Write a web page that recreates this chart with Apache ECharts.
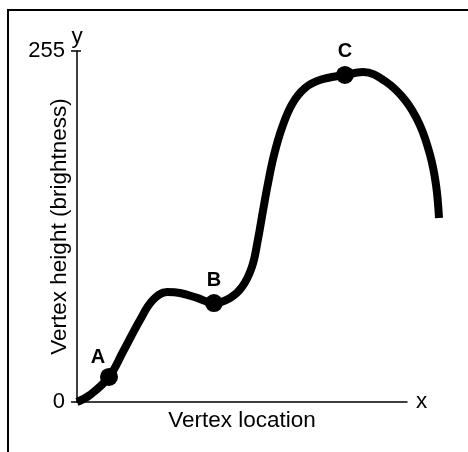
<!DOCTYPE html>
<html>
<head>
<meta charset="utf-8">
<script src="https://cdn.jsdelivr.net/npm/echarts@6/dist/echarts.min.js"></script>
<style>
html, body { margin: 0; padding: 0; background: #fff; }
#chart { position: absolute; left: 0; top: 0; width: 468px; height: 452px; }
.frame { position: absolute; left: 7px; top: 9px; width: 470px; height: 460px; border-top: 2px solid #000; border-left: 2px solid #000; pointer-events: none; }
</style>
</head>
<body>
<div id="chart"></div>
<div class="frame"></div>
<script>
// curve (x: 0..100 = visible axis, y: 0..255)
var curveX = [0, 3.9, 9.7, 13.9, 19.1, 23.0, 27.3, 31.2, 36.4, 41.5, 46.4, 50.0, 53.0, 54.8, 56.4, 57.9, 59.7, 62.1, 65.2, 69.1, 73.6, 81.2, 86.7, 93.3, 99.4, 103.9, 107.0, 108.8, 109.7];
var curveY = [0, 5.1, 18.2, 36.3, 59.6, 74.1, 79.9, 79.2, 75.6, 71.9, 75.6, 83.5, 98.1, 117.7, 139.5, 159.1, 179.4, 199.1, 216.5, 228.1, 233.9, 237.6, 239.7, 233.2, 219.4, 201.2, 179.4, 157.6, 133.7];

var pointNames = ['A', 'B', 'C'];
var pointX = [9.7, 41.5, 81.2];
var pointY = [18.2, 71.9, 237.6];
var yTicks = [0, 255];

var font = 'Liberation Sans, Arial, Helvetica, sans-serif';
var nameSize = 22.5;

var chart = echarts.init(document.getElementById('chart'));

var curve = curveX.map(function (x, i) {
    return [x, curveY[i]];
});

var points = pointNames.map(function (n, i) {
    var item = { name: n, value: [pointX[i], pointY[i]] };
    if (n === 'A') {
        item.label = { offset: [-11, 4] };
    }
    return item;
});

function hiddenAxis(grid, max) {
    return {
        type: 'value', gridIndex: grid, min: 0, max: max, show: false,
        axisLine: { show: false }, axisTick: { show: false },
        axisLabel: { show: false }, splitLine: { show: false }
    };
}

chart.setOption({
    animation: false,
    textStyle: { fontFamily: font, color: '#000' },
    // grid 0 holds the drawn axes, grid 1 the curve (it runs past the x axis end)
    grid: [
        { left: 77, right: 61, top: 51, bottom: 50, containLabel: false, outerBoundsMode: 'none' },
        { left: 77, right: 28, top: 51, bottom: 50, containLabel: false, outerBoundsMode: 'none' }
    ],
    xAxis: [{
        type: 'value',
        gridIndex: 0,
        min: 0,
        max: 100,
        axisLine: { lineStyle: { color: '#000', width: 1.5 } },
        axisTick: { show: false },
        axisLabel: { show: false },
        splitLine: { show: false },
        name: 'Vertex location',
        nameLocation: 'middle',
        nameGap: 7,
        nameMoveOverlap: false,
        nameTextStyle: { fontSize: nameSize, color: '#000', fontFamily: font }
    }, {
        type: 'value',
        gridIndex: 0,
        min: 0,
        max: 100,
        position: 'bottom',
        axisLine: { show: false },
        axisTick: { show: false },
        axisLabel: { show: false },
        splitLine: { show: false },
        name: 'x',
        nameLocation: 'end',
        nameGap: 9,
        nameTextStyle: { fontSize: nameSize, color: '#000', fontFamily: font }
    }, hiddenAxis(1, 110)],
    yAxis: [{
        type: 'value',
        gridIndex: 0,
        min: yTicks[0],
        max: yTicks[1],
        interval: yTicks[1] - yTicks[0],
        axisLine: { show: true, lineStyle: { color: '#000', width: 1.5 } },
        axisTick: { show: true, length: 6, lineStyle: { color: '#000', width: 1.5 } },
        axisLabel: { fontSize: 22, color: '#000', margin: 12, fontFamily: font },
        splitLine: { show: false },
        name: 'Vertex height (brightness)',
        nameLocation: 'middle',
        nameGap: 6,
        nameMoveOverlap: false,
        nameTextStyle: { fontSize: nameSize, color: '#000', fontFamily: font }
    }, {
        type: 'value',
        gridIndex: 0,
        position: 'left',
        min: yTicks[0],
        max: yTicks[1],
        interval: yTicks[1] - yTicks[0],
        axisLine: { show: false },
        axisTick: { show: true, inside: true, length: 4, lineStyle: { color: '#000', width: 1.5 } },
        axisLabel: { show: false },
        splitLine: { show: false },
        name: 'y',
        nameLocation: 'end',
        nameGap: 3,
        nameTextStyle: { fontSize: nameSize, color: '#000', fontFamily: font }
    }, hiddenAxis(1, 255)],
    series: [{
        type: 'line',
        xAxisIndex: 2,
        yAxisIndex: 2,
        data: curve,
        smooth: 0.4,
        showSymbol: false,
        clip: false,
        lineStyle: { color: '#000', width: 8, cap: 'butt', join: 'round' },
        z: 2
    }, {
        type: 'scatter',
        xAxisIndex: 2,
        yAxisIndex: 2,
        data: points,
        symbolSize: 18,
        clip: false,
        itemStyle: { color: '#000', opacity: 1 },
        label: {
            show: true,
            position: 'top',
            distance: 4,
            formatter: '{b}',
            fontSize: 20,
            fontWeight: 'bold',
            color: '#000',
            fontFamily: font
        },
        z: 3
    }]
});
</script>
</body>
</html>
